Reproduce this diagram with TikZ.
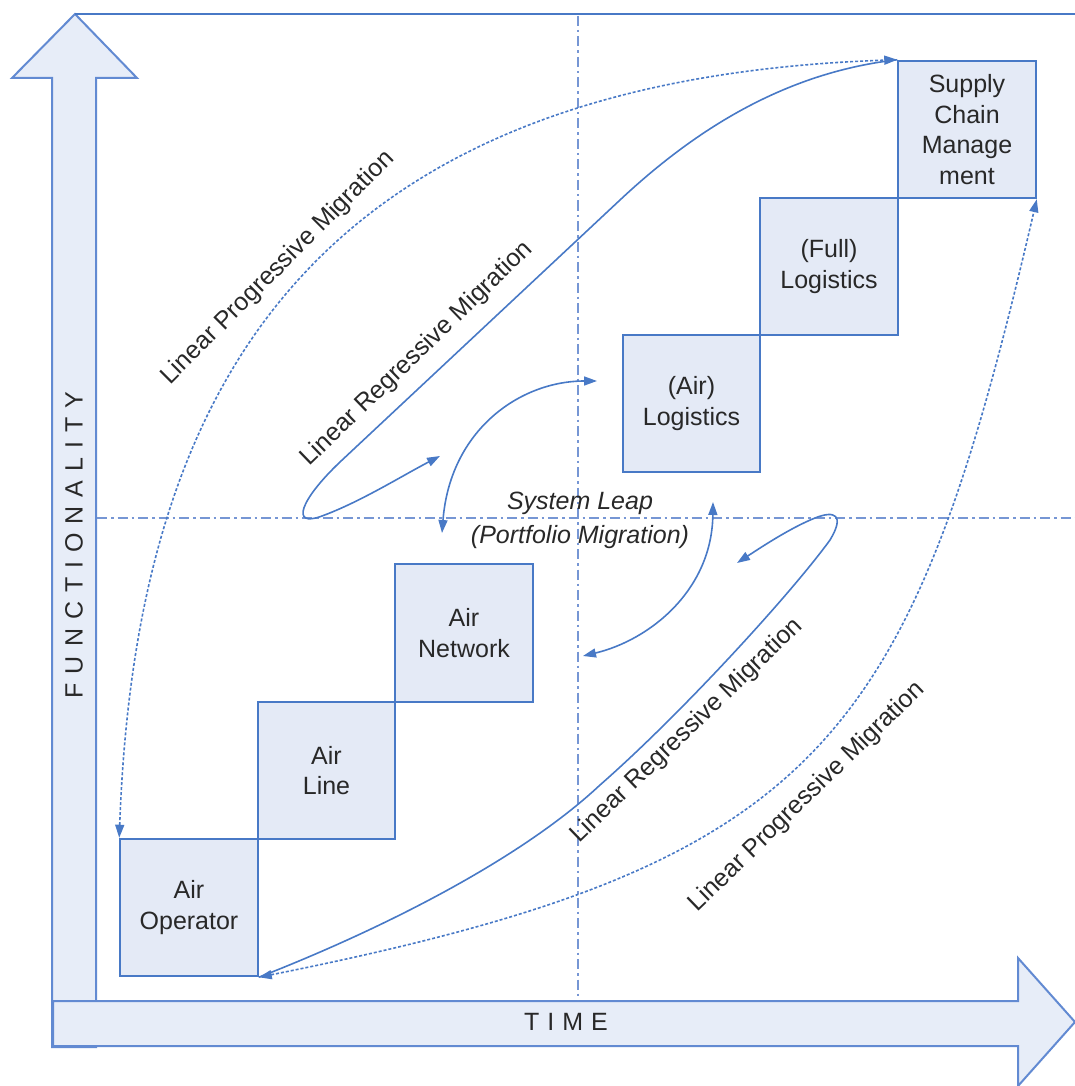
\documentclass[tikz,border=0pt]{standalone}
\usepackage{fontspec}
\setmainfont{Liberation Sans}
\usetikzlibrary{arrows.meta}
\definecolor{lineblue}{RGB}{72,121,198}
\definecolor{boxfill}{RGB}{228,234,246}
\definecolor{axisfill}{RGB}{231,237,248}
\definecolor{axisblue}{RGB}{98,138,210}
\definecolor{guideblue}{RGB}{118,150,212}
\definecolor{txtgray}{RGB}{40,40,40}
\newcommand\lspA{\kern9pt}
\newcommand\lspB{\kern8pt}
\tikzset{
  box/.style={draw=lineblue, fill=boxfill, line width=2pt, minimum width=137.5pt, minimum height=137.5pt, inner sep=0pt, align=center, text=txtgray, font=\fontsize{25}{30.5}\selectfont},
  conn/.style={draw=lineblue, line width=1.6pt},
  dotconn/.style={conn, dash pattern=on 3pt off 2pt},
  guide/.style={draw=guideblue, line width=2.5pt, dash pattern=on 10pt off 4pt on 2.5pt off 4pt},
  axis/.style={draw=axisblue, fill=axisfill, line width=2pt, line join=miter},
  lab/.style={text=txtgray, font=\fontsize{25}{30}\selectfont, inner sep=0pt},
  >={Triangle[length=13pt,width=9pt]}
}
\begin{document}
\begin{tikzpicture}[x=1pt,y=-1pt]
\useasboundingbox (0,0) rectangle (1075,1086);
% axes
\path[axis] (52,1047) -- (52,78) -- (12,78) -- (75,14) -- (137,78) -- (96,78) -- (96,1047) -- cycle;
\draw[draw=lineblue, line width=2pt] (75,14) -- (1075,14);
\path[axis] (53,1001) -- (1018,1001) -- (1018,958) -- (1075,1022) -- (1018,1086) -- (1018,1046) -- (53,1046) -- cycle;
% guides
\draw[guide] (578,16) -- (578,1000);
\draw[guide] (97,518) -- (1075,518);
% boxes
\node[box] (op) at (189,907.5) {Air\\Operator};
\node[box] (ln) at (326.5,770.5) {Air\\Line};
\node[box] (net) at (464,633) {Air\\Network};
\node[box] (alog) at (691.5,403.5) {(Air)\\Logistics};
\node[box] (flog) at (829,266.5) {(Full)\\Logistics};
\node[box] (scm) at (967,129.5) {Supply\\Chain\\Manage\\ment};
% free ends
\coordinate (r1) at (440,456);
\coordinate (r2) at (737,563);
\coordinate (s1) at (442,533);
\coordinate (s2) at (597,381);
\coordinate (s3) at (713,502);
\coordinate (s4) at (583,656);
% curves
\draw[dotconn,<->] (op.north west) .. controls (135,400) and (300,80) .. (scm.north west);
\draw[conn,->] (scm.north west) .. controls (790,72) and (700,125) .. (620,200) -- (340,462) .. controls (300,500) and (290,528) .. (322,516) .. controls (360,502) and (400,477) .. (r1);
\draw[conn,->] (op.south east) .. controls (380,930) and (520,860) .. (600,785) .. controls (680,715) and (790,595) .. (830,540) .. controls (845,515) and (835,510) .. (815,518) .. controls (790,528) and (760,548) .. (r2);
\draw[dotconn,<->] (op.south east) .. controls (824,864) and (910,744) .. (scm.south east);
\draw[conn,<->] (s1) .. controls (450,430) and (520,381) .. (s2);
\draw[conn,<->] (s3) .. controls (712,590) and (650,640) .. (s4);
% labels
\node[lab, rotate=45] (lpm1) at (278,268) {Linear Progressive Migration};
\node[lab, rotate=44] (lrm1) at (417,354) {Linear Regressive Migration};
\node[lab, rotate=44] (lrm2) at (687,731) {Linear Regressive Migration};
\node[lab, rotate=44] (lpm2) at (807,797) {Linear Progressive Migration};
\node[lab, align=center, font=\itshape\fontsize{25}{34}\selectfont] (leap) at (580,520) {System Leap\\(Portfolio Migration)};
\node[lab] (time) at (566,1022) {T\lspB I\lspB M\lspB E};
\node[lab, rotate=90] (func) at (74,545) {F\lspA U\lspA N\lspA C\lspA T\lspA I\lspA O\lspA N\lspA A\lspA L\lspA I\lspA T\lspA Y};
\end{tikzpicture}
\end{document}
